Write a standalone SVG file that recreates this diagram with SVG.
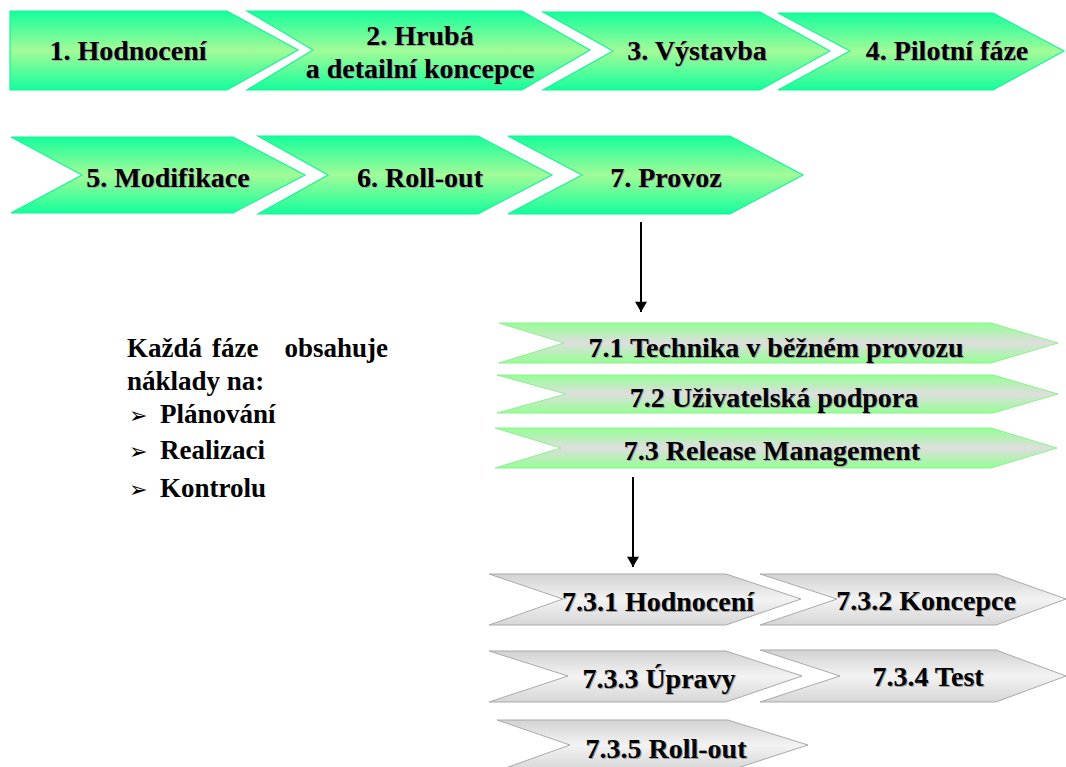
<svg xmlns="http://www.w3.org/2000/svg" width="1066" height="767" viewBox="0 0 1066 767">
<defs>
<linearGradient id="gGreen" x1="0" y1="0" x2="0" y2="1">
<stop offset="0" stop-color="#14ff9c"/>
<stop offset="0.5" stop-color="#a2fb98"/>
<stop offset="1" stop-color="#14ff9c"/>
</linearGradient>
<linearGradient id="gMix" x1="0" y1="0" x2="0" y2="1">
<stop offset="0" stop-color="#94ff94"/>
<stop offset="0.5" stop-color="#dedede"/>
<stop offset="1" stop-color="#94ff94"/>
</linearGradient>
<linearGradient id="gGray" x1="0" y1="0" x2="0" y2="1">
<stop offset="0" stop-color="#d2d2d2"/>
<stop offset="0.5" stop-color="#f3f3f3"/>
<stop offset="1" stop-color="#d6d6d6"/>
</linearGradient>
<marker id="arr" viewBox="0 0 12 14" refX="12" refY="7" markerWidth="14" markerHeight="12" markerUnits="userSpaceOnUse" orient="auto">
<path d="M0,0 L12,7 L0,14 z" fill="#000"/>
</marker>
</defs>
<rect width="1066" height="767" fill="#fff"/>

<g id="n1">
<polygon fill="url(#gGreen)" stroke="#19f29a" stroke-width="1.2" points="10,11 227,11 298,50 227,90 10,90"/>
<text x="129" y="61" font-family="Liberation Serif" font-weight="bold" font-size="28" text-anchor="middle" fill="#a0a0a0">1. Hodnocení</text>
<text x="128" y="60" font-family="Liberation Serif" font-weight="bold" font-size="28" text-anchor="middle" fill="#000">1. Hodnocení</text>
</g>
<g id="n2">
<polygon fill="url(#gGreen)" stroke="#19f29a" stroke-width="1.2" points="247,11 522,11 590,50 522,90 247,90 313,50"/>
<text x="421" y="46" font-family="Liberation Serif" font-weight="bold" font-size="28" text-anchor="middle" fill="#a0a0a0">2. Hrubá</text>
<text x="420" y="45" font-family="Liberation Serif" font-weight="bold" font-size="28" text-anchor="middle" fill="#000">2. Hrubá</text>
<text x="421" y="79" font-family="Liberation Serif" font-weight="bold" font-size="28" text-anchor="middle" fill="#a0a0a0">a detailní koncepce</text>
<text x="420" y="78" font-family="Liberation Serif" font-weight="bold" font-size="28" text-anchor="middle" fill="#000">a detailní koncepce</text>
</g>
<g id="n3">
<polygon fill="url(#gGreen)" stroke="#19f29a" stroke-width="1.2" points="543,12 760,12 830,51 760,90 543,90 613,51"/>
<text x="698" y="61" font-family="Liberation Serif" font-weight="bold" font-size="28" text-anchor="middle" fill="#a0a0a0">3. Výstavba</text>
<text x="697" y="60" font-family="Liberation Serif" font-weight="bold" font-size="28" text-anchor="middle" fill="#000">3. Výstavba</text>
</g>
<g id="n4">
<polygon fill="url(#gGreen)" stroke="#19f29a" stroke-width="1.2" points="778,13 993,13 1064,51 993,90 778,90 850,51"/>
<text x="948" y="61" font-family="Liberation Serif" font-weight="bold" font-size="28" text-anchor="middle" fill="#a0a0a0">4. Pilotní fáze</text>
<text x="947" y="60" font-family="Liberation Serif" font-weight="bold" font-size="28" text-anchor="middle" fill="#000">4. Pilotní fáze</text>
</g>
<g id="n5">
<polygon fill="url(#gGreen)" stroke="#19f29a" stroke-width="1.2" points="11,137 233,137 305,175 233,213 11,213 82,175"/>
<text x="169" y="188" font-family="Liberation Serif" font-weight="bold" font-size="28" text-anchor="middle" fill="#a0a0a0">5. Modifikace</text>
<text x="168" y="187" font-family="Liberation Serif" font-weight="bold" font-size="28" text-anchor="middle" fill="#000">5. Modifikace</text>
</g>
<g id="n6">
<polygon fill="url(#gGreen)" stroke="#19f29a" stroke-width="1.2" points="258,136 478,136 552,175 478,214 258,214 328,175"/>
<text x="421" y="188" font-family="Liberation Serif" font-weight="bold" font-size="28" text-anchor="middle" fill="#a0a0a0">6. Roll-out</text>
<text x="420" y="187" font-family="Liberation Serif" font-weight="bold" font-size="28" text-anchor="middle" fill="#000">6. Roll-out</text>
</g>
<g id="n7">
<polygon fill="url(#gGreen)" stroke="#19f29a" stroke-width="1.2" points="508,136 730,136 803,175 730,214 508,214 582,175"/>
<text x="667" y="188" font-family="Liberation Serif" font-weight="bold" font-size="28" text-anchor="middle" fill="#a0a0a0">7. Provoz</text>
<text x="666" y="187" font-family="Liberation Serif" font-weight="bold" font-size="28" text-anchor="middle" fill="#000">7. Provoz</text>
</g>

<g id="n71">
<polygon fill="url(#gMix)" stroke="#8ff08f" stroke-width="1" points="499,323 991,323 1058,343 991,363 499,363 564,343"/>
<text x="777" y="358" font-family="Liberation Serif" font-weight="bold" font-size="28" text-anchor="middle" fill="#a0a0a0">7.1 Technika v běžném provozu</text>
<text x="776" y="357" font-family="Liberation Serif" font-weight="bold" font-size="28" text-anchor="middle" fill="#000">7.1 Technika v běžném provozu</text>
</g>
<g id="n72">
<polygon fill="url(#gMix)" stroke="#8ff08f" stroke-width="1" points="497,375 993,375 1058,394 993,413 497,413 566,394"/>
<text x="775" y="408" font-family="Liberation Serif" font-weight="bold" font-size="28" text-anchor="middle" fill="#a0a0a0">7.2 Uživatelská podpora</text>
<text x="774" y="407" font-family="Liberation Serif" font-weight="bold" font-size="28" text-anchor="middle" fill="#000">7.2 Uživatelská podpora</text>
</g>
<g id="n73">
<polygon fill="url(#gMix)" stroke="#8ff08f" stroke-width="1" points="495,428 991,428 1057,448 991,468 495,468 561,448"/>
<text x="773" y="461" font-family="Liberation Serif" font-weight="bold" font-size="28" text-anchor="middle" fill="#a0a0a0">7.3 Release Management</text>
<text x="772" y="460" font-family="Liberation Serif" font-weight="bold" font-size="28" text-anchor="middle" fill="#000">7.3 Release Management</text>
</g>

<g id="n731">
<polygon fill="url(#gGray)" stroke="#aaaaaa" stroke-width="1" points="489,574 726,574 801,599 726,625 489,625 563,599"/>
<text x="659" y="612" font-family="Liberation Serif" font-weight="bold" font-size="28" text-anchor="middle" fill="#a0a0a0">7.3.1 Hodnocení</text>
<text x="658" y="611" font-family="Liberation Serif" font-weight="bold" font-size="28" text-anchor="middle" fill="#000">7.3.1 Hodnocení</text>
</g>
<g id="n732">
<polygon fill="url(#gGray)" stroke="#aaaaaa" stroke-width="1" points="760,574 996,574 1066,599 996,625 760,625 837,599"/>
<text x="927" y="611" font-family="Liberation Serif" font-weight="bold" font-size="28" text-anchor="middle" fill="#a0a0a0">7.3.2 Koncepce</text>
<text x="926" y="610" font-family="Liberation Serif" font-weight="bold" font-size="28" text-anchor="middle" fill="#000">7.3.2 Koncepce</text>
</g>
<g id="n733">
<polygon fill="url(#gGray)" stroke="#aaaaaa" stroke-width="1" points="489,651 726,651 802,676 726,702 489,702 568,676"/>
<text x="660" y="689" font-family="Liberation Serif" font-weight="bold" font-size="28" text-anchor="middle" fill="#a0a0a0">7.3.3 Úpravy</text>
<text x="659" y="688" font-family="Liberation Serif" font-weight="bold" font-size="28" text-anchor="middle" fill="#000">7.3.3 Úpravy</text>
</g>
<g id="n734">
<polygon fill="url(#gGray)" stroke="#aaaaaa" stroke-width="1" points="760,650 996,650 1066,676 996,702 760,702 840,676"/>
<text x="929" y="687" font-family="Liberation Serif" font-weight="bold" font-size="28" text-anchor="middle" fill="#a0a0a0">7.3.4 Test</text>
<text x="928" y="686" font-family="Liberation Serif" font-weight="bold" font-size="28" text-anchor="middle" fill="#000">7.3.4 Test</text>
</g>
<g id="n735">
<polygon fill="url(#gGray)" stroke="#aaaaaa" stroke-width="1" points="497,720 728,720 808,745 728,771 497,771 570,745"/>
<text x="667" y="759" font-family="Liberation Serif" font-weight="bold" font-size="28" text-anchor="middle" fill="#a0a0a0">7.3.5 Roll-out</text>
<text x="666" y="758" font-family="Liberation Serif" font-weight="bold" font-size="28" text-anchor="middle" fill="#000">7.3.5 Roll-out</text>
</g>

<g id="note">
<text x="127" y="357" font-family="Liberation Serif" font-weight="bold" font-size="27" fill="#000">Každá</text>
<text x="212" y="357" font-family="Liberation Serif" font-weight="bold" font-size="27" fill="#000">fáze</text>
<text x="388" y="357" font-family="Liberation Serif" font-weight="bold" font-size="27" text-anchor="end" fill="#000">obsahuje</text>
<text x="127" y="390" font-family="Liberation Serif" font-weight="bold" font-size="27" fill="#000">náklady na:</text>
<text x="129" y="423" font-family="DejaVu Sans" font-size="22" fill="#000">➢</text>
<text x="160" y="423" font-family="Liberation Serif" font-weight="bold" font-size="27" fill="#000">Plánování</text>
<text x="129" y="459" font-family="DejaVu Sans" font-size="22" fill="#000">➢</text>
<text x="160" y="459" font-family="Liberation Serif" font-weight="bold" font-size="27" fill="#000">Realizaci</text>
<text x="129" y="497" font-family="DejaVu Sans" font-size="22" fill="#000">➢</text>
<text x="160" y="497" font-family="Liberation Serif" font-weight="bold" font-size="27" fill="#000">Kontrolu</text>
</g>

<g id="connectors">
<line x1="641" y1="222" x2="641" y2="312" stroke="#000" stroke-width="2" marker-end="url(#arr)"/>
<line x1="633" y1="477" x2="633" y2="567" stroke="#000" stroke-width="2" marker-end="url(#arr)"/>
</g>
</svg>
